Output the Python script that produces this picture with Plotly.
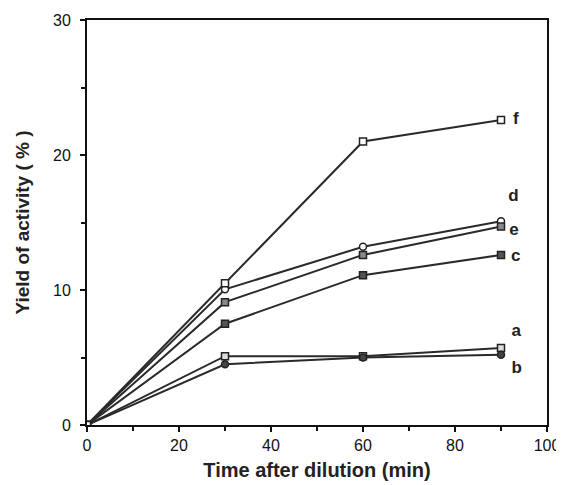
import plotly.graph_objects as go

time = [0, 30, 60, 90]
series_names = ["a", "b", "c", "d", "e", "f"]
a_vals = [0, 5.1, 5.1, 5.7]
b_vals = [0, 4.5, 5.0, 5.2]
c_vals = [0, 7.5, 11.1, 12.6]
d_vals = [0, 10.05, 13.2, 15.1]
e_vals = [0, 9.1, 12.6, 14.7]
f_vals = [0, 10.5, 21.0, 22.6]
label_x = [92.3, 92.3, 92.2, 91.6, 91.8, 92.6]
label_y = [6.9, 4.2, 12.5, 16.9, 14.4, 22.6]

values = [a_vals, b_vals, c_vals, d_vals, e_vals, f_vals]
symbols = ["square", "circle", "square", "circle", "square", "square"]
mcolors = ["#dddddd", "#444444", "#555555", "#ffffff", "#888888", "#ffffff"]

fig = go.Figure()
line_col = "#2a2a2a"
for name, vals, sym, mc in zip(series_names, values, symbols, mcolors):
    fig.add_trace(go.Scatter(
        x=time, y=vals, mode="lines+markers", name=name,
        line=dict(color=line_col, width=2),
        marker=dict(symbol=sym, size=7, color=mc,
                    line=dict(color="#222222", width=1.5)),
        showlegend=False,
    ))

fig.add_trace(go.Scatter(
    x=label_x, y=label_y, mode="text", text=["<b>%s</b>" % s for s in series_names],
    textposition="middle right",
    textfont=dict(family="Liberation Sans, Arial", size=17, color="#222222"),
    showlegend=False, cliponaxis=False,
))

axis_common = dict(
    showline=True, linecolor="#111111", linewidth=2, mirror=True,
    showgrid=False, zeroline=False, ticks="outside", ticklen=5,
    tickwidth=1.5, tickcolor="#111111", automargin=False,
    ticklabeloverflow="allow",
    tickfont=dict(family="Liberation Sans, Arial", size=16, color="#111111"),
)

fig.update_layout(
    width=556, height=477,
    margin=dict(l=79, r=17, t=12, b=60),
    paper_bgcolor="white", plot_bgcolor="white",
    xaxis=dict(range=[0, 100], tickvals=[0, 20, 40, 60, 80, 100],
               minor=dict(tickvals=[10, 30, 50, 70, 90], ticks="outside", ticklen=4,
                          tickcolor="#111111", tickwidth=1.5),
               title=dict(text="<b>Time after dilution (min)</b>",
                          font=dict(family="Liberation Sans, Arial", size=20, color="#222222"),
                          standoff=10),
               **axis_common),
    yaxis=dict(range=[0, 30], tickvals=[0, 10, 20, 30],
               ticklabelstandoff=6,
               minor=dict(tickvals=[5, 15, 25], ticks="outside", ticklen=4,
                          tickcolor="#111111", tickwidth=1.5),
               title=dict(text="<b>Yield of activity ( % )</b>",
                          font=dict(family="Liberation Sans, Arial", size=19, color="#222222"),
                          standoff=18),
               **axis_common),
)

fig.write_html("out.html")
